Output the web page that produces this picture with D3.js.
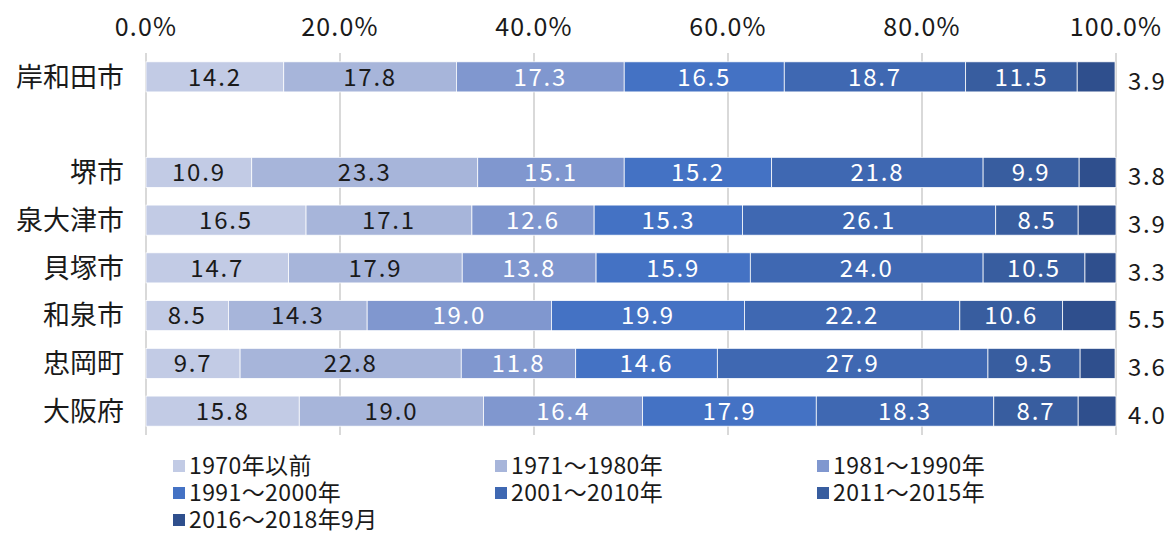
<!DOCTYPE html>
<html>
<head>
<meta charset="utf-8">
<script src="https://cdn.jsdelivr.net/npm/d3@7"></script>
<style>
  body { margin: 0; background: #fff; }
  svg text { font-family: "Noto Sans CJK JP", "Noto Sans", sans-serif; }
</style>
</head>
<body>
<div id="chart"></div>
<script>
const width = 1173, height = 534;

const categories = ["岸和田市", "", "堺市", "泉大津市", "貝塚市", "和泉市", "忠岡町", "大阪府"];
const series = ["1970年以前", "1971～1980年", "1981～1990年", "1991～2000年", "2001～2010年", "2011～2015年", "2016～2018年9月"];
const colors = ["#c2cbe5", "#a7b5da", "#8097cf", "#4472c4", "#3f68b2", "#385d9f", "#2f4f8d"];
const ticks = [0, 20, 40, 60, 80, 100];

const values = {
  "岸和田市": [14.2, 17.8, 17.3, 16.5, 18.7, 11.5, 3.9],
  "堺市":     [10.9, 23.3, 15.1, 15.2, 21.8, 9.9, 3.8],
  "泉大津市": [16.5, 17.1, 12.6, 15.3, 26.1, 8.5, 3.9],
  "貝塚市":   [14.7, 17.9, 13.8, 15.9, 24.0, 10.5, 3.3],
  "和泉市":   [8.5, 14.3, 19.0, 19.9, 22.2, 10.6, 5.5],
  "忠岡町":   [9.7, 22.8, 11.8, 14.6, 27.9, 9.5, 3.6],
  "大阪府":   [15.8, 19.0, 16.4, 17.9, 18.3, 8.7, 4.0]
};

const svg = d3.select("#chart").append("svg")
  .attr("width", width)
  .attr("height", height);

const x = d3.scaleLinear().domain([0, 100]).range([146, 1116]);
const y = d3.scaleBand().domain(categories).range([53, 435]).paddingInner(0.37).paddingOuter(0.185);

// gridlines
svg.append("g").selectAll("line")
  .data(ticks)
  .join("line")
    .attr("x1", d => x(d)).attr("x2", d => x(d))
    .attr("y1", 53).attr("y2", 435)
    .attr("stroke", "#d9d9d9")
    .attr("stroke-width", 2);

// top tick labels
svg.append("g").selectAll("text")
  .data(ticks)
  .join("text")
    .attr("x", d => x(d))
    .attr("y", 36)
    .attr("text-anchor", "middle")
    .attr("font-size", 25)
    .attr("letter-spacing", 1.2)
    .attr("fill", "#1a1a1a")
    .text(d => d.toFixed(1) + "%");

// category labels
svg.append("g").selectAll("text")
  .data(categories.filter(c => c))
  .join("text")
    .attr("x", 124)
    .attr("y", d => y(d) + y.bandwidth() / 2)
    .attr("dy", "0.36em")
    .attr("text-anchor", "end")
    .attr("font-size", 27)
    .attr("fill", "#1a1a1a")
    .text(d => d);

// stacked bars
const rows = categories.filter(c => c).map(c => {
  let acc = 0;
  return values[c].map((v, i) => {
    const seg = { cat: c, i: i, v: v, x0: acc, x1: acc + v };
    acc += v;
    return seg;
  });
});

const segs = rows.flat();

svg.append("g").selectAll("rect")
  .data(segs)
  .join("rect")
    .attr("x", d => x(d.x0))
    .attr("width", d => Math.min(x(d.x1), x(100)) - x(d.x0))
    .attr("y", d => y(d.cat))
    .attr("height", y.bandwidth())
    .attr("fill", d => colors[d.i])
    .attr("stroke", "#fff")
    .attr("stroke-width", 0.75);

// value labels
svg.append("g").selectAll("text")
  .data(segs)
  .join("text")
    .attr("x", d => d.i === 6 ? 1128 : x((d.x0 + d.x1) / 2))
    .attr("y", d => y(d.cat) + y.bandwidth() / 2 + (d.i === 6 ? 4 : 0))
    .attr("dy", "0.36em")
    .attr("text-anchor", d => d.i === 6 ? "start" : "middle")
    .attr("font-size", 24)
    .attr("letter-spacing", 1.8)
    .attr("fill", d => d.i < 2 || d.i === 6 ? "#1a1a1a" : "#fff")
    .text(d => d.v.toFixed(1));

// legend
const legend = svg.append("g").selectAll("g")
  .data(series)
  .join("g")
    .attr("transform", (d, i) => `translate(${173 + (i % 3) * 322},${466 + Math.floor(i / 3) * 27})`);

legend.append("rect")
  .attr("x", 0).attr("y", -6)
  .attr("width", 12).attr("height", 12)
  .attr("fill", (d, i) => colors[i]);

legend.append("text")
  .attr("x", 16)
  .attr("y", 0)
  .attr("dy", "0.34em")
  .attr("font-size", 23)
  .attr("letter-spacing", 0.4)
  .attr("fill", "#1a1a1a")
  .text(d => d);
</script>
</body>
</html>
